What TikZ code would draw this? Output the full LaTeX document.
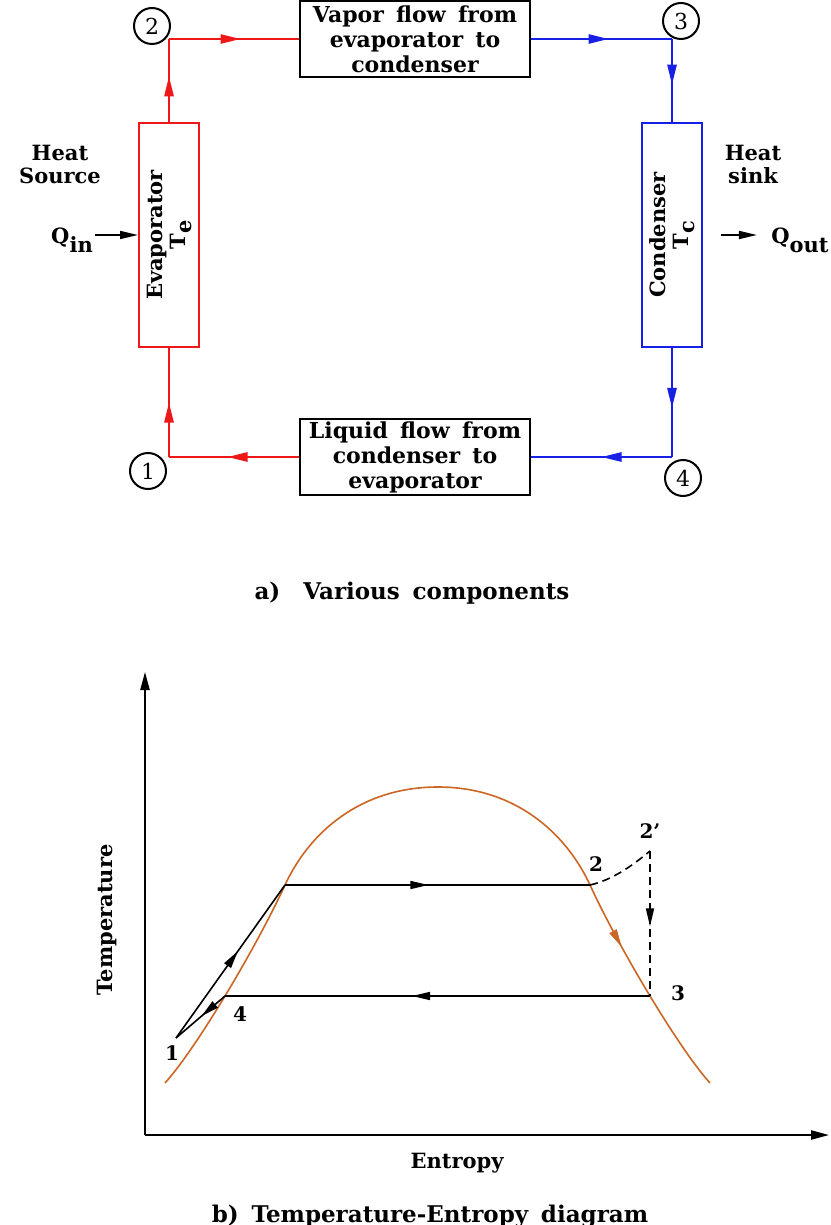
\documentclass[tikz,border=0pt]{standalone}
\usepackage{fontspec}
\setmainfont{DejaVu Serif}[WordSpace=1.6]
\usetikzlibrary{arrows.meta, decorations.markings, positioning}
\definecolor{evapred}{RGB}{238,24,24}
\definecolor{condblue}{RGB}{24,32,230}
\definecolor{domebrown}{RGB}{204,102,36}

\tikzset{
  flowtip/.tip={Triangle[length=10pt,width=4.6pt]},
  plottip/.tip={Triangle[length=9pt,width=4pt]},
  midarrow/.style={postaction={decorate},
    decoration={markings, mark=at position #1 with {\arrow{flowtip}}}},
  midarrow/.default=0.55,
  plotarrow/.style={postaction={decorate},
    decoration={markings, mark=at position #1 with {\arrow{plottip}}}},
  plotarrow/.default=0.5,
  flowbox/.style={draw, line width=1pt, fill=white, align=center, inner sep=0pt,
    minimum width=115pt, minimum height=38pt,
    font=\fontsize{11}{12.5}\selectfont\bfseries},
  unitbox/.style={draw, line width=1pt, minimum width=30pt, minimum height=112pt, inner sep=0pt},
  statecirc/.style={circle, draw, line width=1pt, minimum size=18pt, inner sep=0pt,
    font=\fontsize{11}{12}\selectfont},
  redflow/.style={evapred, line width=1pt},
  blueflow/.style={condblue, line width=1pt},
  txt/.style={font=\fontsize{10.5}{11.5}\selectfont\bfseries, align=center, inner sep=1pt},
  ptlabel/.style={font=\fontsize{10}{12}\selectfont\bfseries, inner sep=1pt},
  heatarrow/.style={line width=0.8pt, -{Triangle[length=9pt,width=4pt]}},
  axis/.style={line width=0.9pt, -{Triangle[length=9pt,width=4.6pt]}},
  cycleline/.style={line width=0.8pt},
  dashline/.style={line width=0.8pt, dash pattern=on 4pt off 2.5pt}
}

\begin{document}
\begin{tikzpicture}[x=0.5pt, y=-0.5pt]
% sheet
\fill[white] (0,0) rectangle (830,1225);
\useasboundingbox (0,0) rectangle (830,1225);

% a) components
\node[flowbox] (vap) at (415,39) {Vapor flow from\\evaporator to\\condenser};
\node[flowbox] (liq) at (415,457) {Liquid flow from\\condenser to\\evaporator};
\node[unitbox, draw=evapred] (evap) at (169,235) {};
\node[unitbox, draw=condblue] (cond) at (672,235) {};
\node[txt, rotate=90] (evaptxt) at (evap.center) {Evaporator\\T\raisebox{-3pt}{e}};
\node[txt, rotate=90] (condtxt) at (cond.center) {Condenser\\T\raisebox{-3pt}{c}};

\coordinate (c2) at (evap.north |- vap.west);
\coordinate (c3) at (cond.north |- vap.east);
\coordinate (c1) at (evap.south |- liq.west);
\coordinate (c4) at (cond.south |- liq.east);

\draw[redflow, midarrow] (evap.north) -- (c2);
\draw[redflow, midarrow] (c2) -- (vap.west);
\draw[blueflow, midarrow] (vap.east) -- (c3);
\draw[blueflow, midarrow] (c3) -- (cond.north);
\draw[blueflow, midarrow] (cond.south) -- (c4);
\draw[blueflow, midarrow=0.5] (c4) -- (liq.east);
\draw[redflow, midarrow] (liq.west) -- (c1);
\draw[redflow, midarrow=0.5] (c1) -- (evap.south);

\node[statecirc] (n2) at (152,26) {2};
\node[statecirc] (n3) at (681,21) {3};
\node[statecirc] (n1) at (148,471) {1};
\node[statecirc] (n4) at (683,478) {4};

\node[txt] (hsrc) at (60,164) {Heat\\Source};
\node[txt] (hsnk) at (753,164) {Heat\\sink};
\node[txt] (qin) at (72,240) {Q\raisebox{-4.5pt}{in}};
\node[txt] (qout) at (800,240) {Q\raisebox{-4.5pt}{out}};
\draw[heatarrow] (qin.east |- evap.west) -- (evap.west);
\draw[heatarrow, shorten <=9pt, shorten >=6pt] (cond.east) -- (qout.west |- cond.east);

\node[font=\fontsize{11.5}{13}\selectfont\bfseries] (capa) at (412,593) {a)\quad Various components};

% b) T-s diagram
\coordinate (O) at (145,1135);
\coordinate (ytop) at (145,672);
\coordinate (xend) at (829,1135);
\draw[axis] (O) -- (ytop);
\draw[axis] (O) -- (xend);
\node[txt, rotate=90] (tlab) at (107,920) {Temperature};
\node[txt] (slab) at (457,1163) {Entropy};
\node[font=\fontsize{11.5}{13}\selectfont\bfseries, anchor=base] (capb) at (430,1222) {b) Temperature-Entropy diagram};

% saturation dome
\draw[domebrown, line width=0.8pt]
  (165,1083) .. controls (195,1050) and (255,950) .. (285,885) coordinate[pos=0.5] (s4)
  .. controls (309,833) and (360,787) .. (438,787)
  .. controls (515,787) and (566,833) .. (590,885);
\draw[domebrown, line width=0.8pt, plotarrow=0.3]
  (590,885) .. controls (620,950) and (680,1050) .. (710,1083) coordinate[pos=0.5] (s3);

\coordinate (s1) at (176,1038);
\coordinate (sf) at (285,885);
\coordinate (s2) at (590,885);
\coordinate (s2p) at (s3 |- 0,851);

\draw[cycleline, plotarrow=0.57] (s1) -- (sf);
\draw[cycleline, plotarrow=0.47] (sf) -- (s2);
\draw[dashline] (s2) .. controls (612,880) and (632,866) .. (s2p);
\draw[dashline, plotarrow=0.52] (s2p) -- (s3);
\draw[cycleline, plotarrow=0.56] (s3) -- (s4);
\draw[cycleline, plotarrow=0.48] (s4) -- (s1);

\node[ptlabel] (l1) at (172,1053) {1};
\node[ptlabel] (l2) at (596,864) {2};
\node[ptlabel] (l2p) at (650,831) {2'};
\node[ptlabel] (l3) at (678,993) {3};
\node[ptlabel] (l4) at (240,1014) {4};
\end{tikzpicture}
\end{document}
